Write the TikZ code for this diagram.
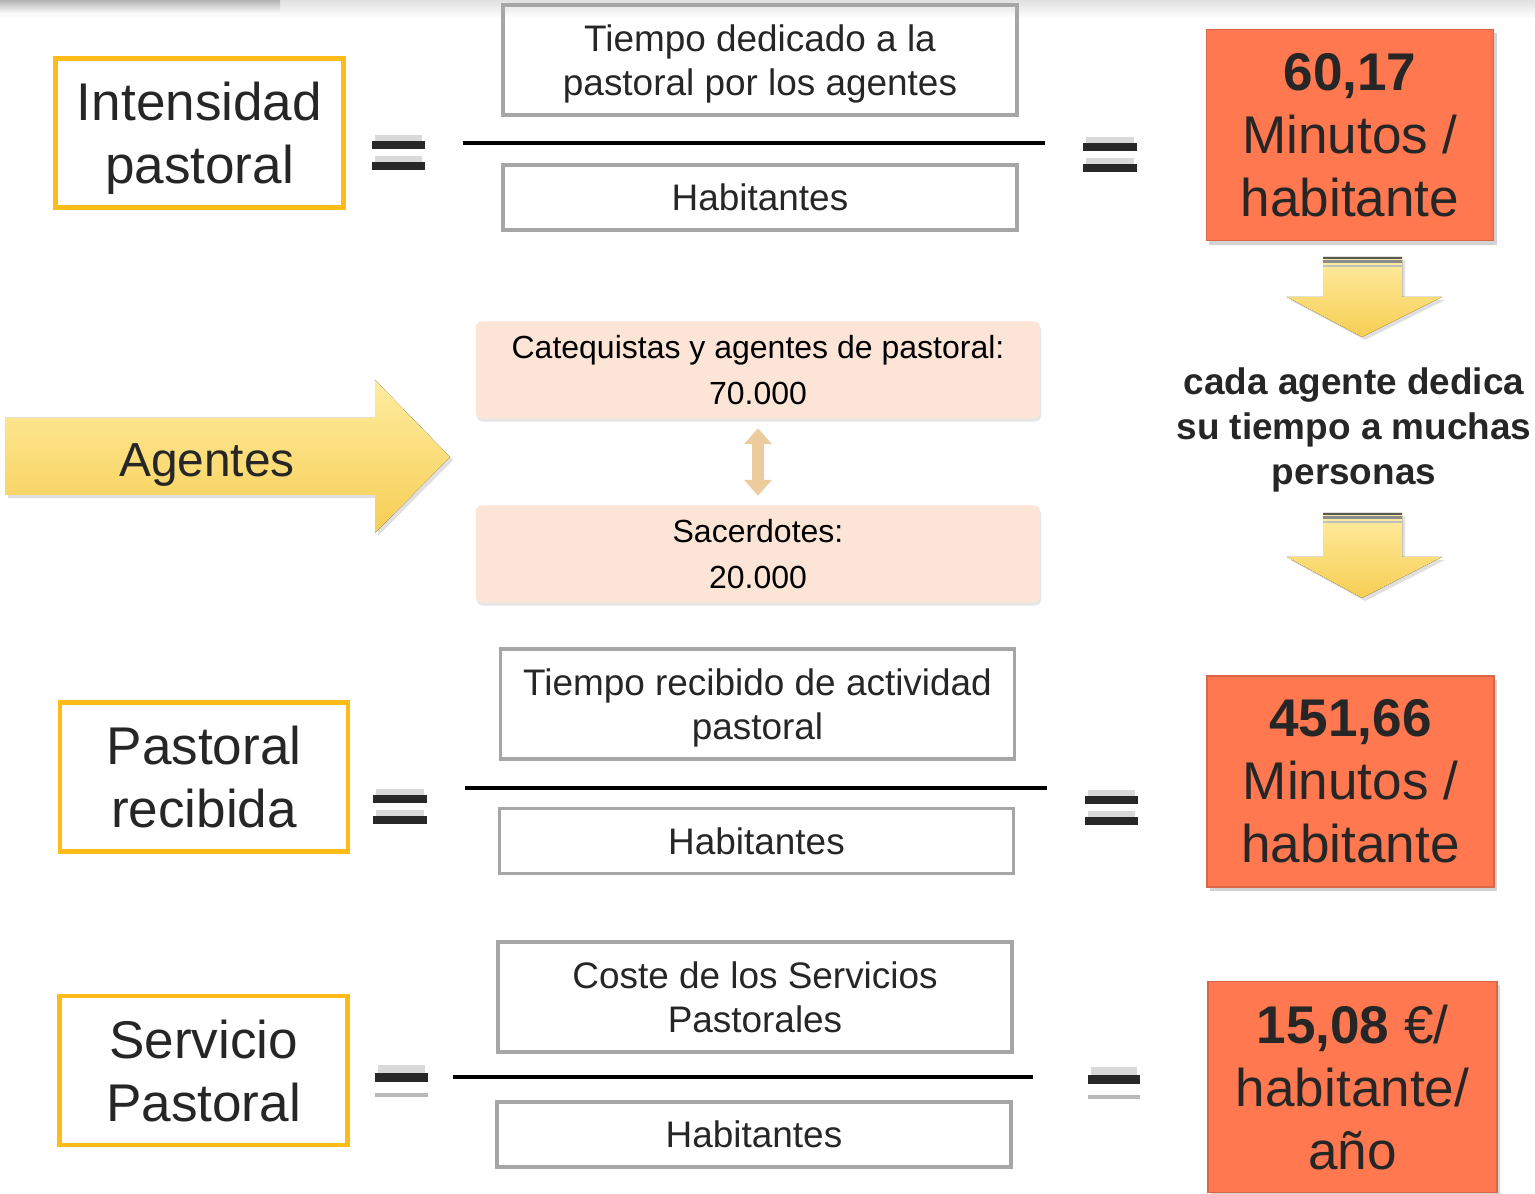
\documentclass[tikz,border=0pt]{standalone}
\usepackage{fontspec}
\setmainfont{Liberation Sans}
\usetikzlibrary{shadows,arrows.meta}

\definecolor{txtdark}{RGB}{38,38,38}
\definecolor{eqdark}{RGB}{40,40,40}
\definecolor{goldline}{RGB}{255,188,25}
\definecolor{termgray}{RGB}{166,166,166}
\definecolor{resorange}{RGB}{255,120,80}
\definecolor{peach}{RGB}{252,228,214}
\definecolor{arrowtop}{RGB}{255,236,160}
\definecolor{arrowbot}{RGB}{246,206,84}
\definecolor{arrowtan}{RGB}{236,203,156}

\tikzset{
  titlebox/.style={draw=goldline, line width=1.3pt, fill=white, text=txtdark, align=center,
    inner sep=0pt, minimum width=2.88cm, minimum height=1.49cm, text depth=0pt,
    font=\fontsize{15.1}{17.9}\selectfont},
  numbox/.style={draw=termgray, line width=1pt, text=txtdark, align=center, inner sep=0pt,
    minimum width=5.14cm, minimum height=1.10cm, text depth=0pt,
    font=\fontsize{10.5}{12.7}\selectfont},
  denbox/.style={numbox, minimum height=0.65cm},
  resbox/.style={fill=resorange, draw=resorange!85!black, line width=0.4pt, text=txtdark,
    align=center, inner sep=0pt, minimum width=2.87cm, minimum height=2.11cm,
    font=\fontsize{15.1}{17.9}\selectfont,
    drop shadow={opacity=0.35, shadow xshift=0.03cm, shadow yshift=-0.04cm}},
  peachbox/.style={fill=peach, rounded corners=0.06cm, text=black, align=center, inner sep=0pt,
    minimum width=5.64cm, minimum height=0.97cm, font=\fontsize{9.1}{13.1}\selectfont,
    drop shadow={opacity=0.2, shadow xshift=0.01cm, shadow yshift=-0.03cm}},
  fracline/.style={line width=1.15pt, black},
  yellowarrow/.style={top color=arrowtop, bottom color=arrowbot,
    drop shadow={opacity=0.25, shadow xshift=0.03cm, shadow yshift=-0.03cm}},
  agentlink/.style={line width=0.12cm, draw=arrowtan,
    {Triangle[length=0.16cm,width=0.27cm]}-{Triangle[length=0.16cm,width=0.27cm]},
    shorten <=0.09cm, shorten >=0.09cm}
}

% equals sign: x from #1 to #2, #3 = middle between the bars
\def\eqsign(#1,#2,#3){%
  \fill[black!15] (#1+3,#3-20) rectangle (#2-3,#3-12);
  \fill[eqdark] (#1,#3-14) rectangle (#2,#3-6);
  \fill[black!15] (#1+3,#3+1) rectangle (#2-3,#3+9);
  \fill[eqdark] (#1,#3+7) rectangle (#2,#3+15);
}
% equals sign with one dark bar, #3 = middle of the dark bar
\def\eqsignlow(#1,#2,#3){%
  \fill[black!15] (#1+3,#3-13) rectangle (#2-3,#3-4);
  \fill[eqdark] (#1,#3-4.5) rectangle (#2,#3+4.5);
  \fill[black!28] (#1,#3+15) rectangle (#2,#3+19);
}
% yellow arrow pointing down: shaft top #1, head base #2, tip #3
\def\dnarrow(#1,#2,#3){%
  \fill[yellowarrow] (1323,#1) -- (1402,#1) -- (1402,#2) -- (1442,#2) -- (1362,#3)
    -- (1287,#2) -- (1323,#2) -- cycle;
  \draw[black!65, line width=0.6pt] (1323,#1+1) -- (1402,#1+1);
  \draw[black!45, line width=0.6pt] (1323,#1+4.5) -- (1402,#1+4.5);
  \draw[black!25, line width=0.6pt] (1323,#1+9) -- (1402,#1+9);
}

\begin{document}
\begin{tikzpicture}[x=0.01cm, y=-0.01cm]
  \useasboundingbox (0,0) rectangle (1535,1194);

  % shadow band at the top
  \fill[top color=black!12, bottom color=white] (0,0) rectangle (1535,18);
  \fill[top color=black!30, bottom color=white] (0,0) rectangle (280,14);

  %%%%% ROW 1 %%%%%
  \node[titlebox] (intens) at (199.5,133) {Intensidad\\pastoral};
  \eqsign(372,425,155.5)
  \node[numbox] (tdedic) at (760,60) {Tiempo dedicado a la\\pastoral por los agentes};
  \draw[fracline] (463,143) -- (1045,143);
  \node[denbox] (hab1) at (760,197.5) {Habitantes};
  \eqsign(1083,1137,157)
  \node[resbox] (res1) at (1350,135) {\textbf{60,17}\\Minutos /\\habitante};

  %%%%% AGENTES %%%%%
  \fill[yellowarrow] (5,418) -- (375,418) -- (375,380) -- (450,457) -- (375,533)
    -- (375,495) -- (5,495) -- cycle;
  \node[text=txtdark, text depth=0pt, font=\fontsize{13.6}{16}\selectfont] (agentes)
    at (207,460) {Agentes};

  \node[peachbox] (catq) at (758,370) {Catequistas y agentes de pastoral:\\70.000};
  \node[peachbox] (sacer) at (758,554) {Sacerdotes:\\20.000};
  \draw[agentlink] (catq) -- (sacer);

  \dnarrow(257,297,337)
  \node[text=txtdark, align=center, font=\bfseries\fontsize{10.5}{12.8}\selectfont] (cada)
    at (1354,430) {cada agente dedica\\su tiempo a muchas\\personas};
  \dnarrow(513,557,598)

  %%%%% ROW 2 %%%%%
  \node[titlebox] (recib) at (204,777) {Pastoral\\recibida};
  \eqsign(373,427,809.5)
  \node[numbox] (trecib) at (757.5,704) {Tiempo recibido de actividad\\pastoral};
  \draw[fracline] (465,788) -- (1047,788);
  \node[denbox] (hab2) at (756.5,841) {Habitantes};
  \eqsign(1085,1138,810.5)
  \node[resbox] (res2) at (1350.5,781.5) {\textbf{451,66}\\Minutos /\\habitante};

  %%%%% ROW 3 %%%%%
  \node[titlebox] (servic) at (203.5,1070.5) {Servicio\\Pastoral};
  \eqsignlow(375,428,1077.5)
  \node[numbox] (coste) at (755,997) {Coste de los Servicios\\Pastorales};
  \draw[fracline] (453,1077) -- (1033,1077);
  \node[denbox] (hab3) at (754,1134.5) {Habitantes};
  \eqsignlow(1088,1140,1079.5)
  \node[resbox, minimum width=2.89cm, text depth=0pt] (res3) at (1352.5,1087)
    {\textbf{15,08} €/\\habitante/\\año};
\end{tikzpicture}
\end{document}
